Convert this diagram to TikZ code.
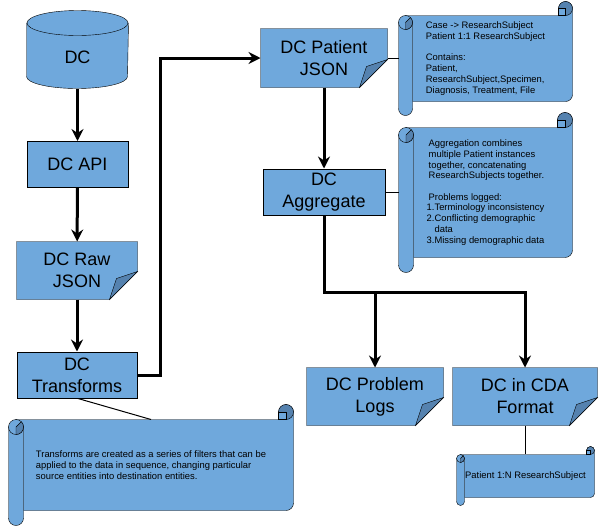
\documentclass[tikz,border=0pt]{standalone}
\usepackage{fontspec}
\setmainfont{Liberation Sans}
\usetikzlibrary{arrows.meta,backgrounds}
\definecolor{boxblue}{RGB}{111,168,220}
\definecolor{rolldark}{RGB}{85,130,175}

% scroll outline round a note node, #2 = size of the rolls
\newcommand{\scrollshape}[2]{%
  \coordinate (tl) at (#1.north west);
  \coordinate (tr) at (#1.north east);
  \coordinate (bl) at (#1.south west);
  \coordinate (br) at (#1.south east);
  \filldraw[fill=boxblue] ([shift={(#2/2,-#2)}]tl) -- ([shift={(-#2,-#2)}]tr)
    -- ([shift={(-#2,-#2/2)}]tr) arc (180:0:#2/2) -- ([shift={(0,#2*1.5)}]br)
    arc (0:-90:#2/2) -- ([shift={(#2,#2)}]bl) -- ([shift={(#2,-#2*1.5)}]tl) -- cycle;
  \filldraw[fill=rolldark] ([shift={(-#2/2,-#2/2)}]tr) circle (#2/2);
  \filldraw[fill=boxblue] ([shift={(-#2,-#2/2)}]tr) rectangle ([shift={(-#2/2,-#2)}]tr);
  \filldraw[fill=boxblue] ([shift={(0,-#2*1.5)}]tl) -- ([shift={(0,#2/2)}]bl)
    arc (180:360:#2/2) -- ([shift={(#2,-#2*1.5)}]tl) -- cycle;
  \filldraw[fill=boxblue] ([shift={(#2/2,-#2*1.5)}]tl) circle (#2/2);
  \filldraw[fill=rolldark] ([shift={(#2/2,-#2*1.5)}]tl) -- ++(0,-#2/2) arc (-90:45:#2/2) -- cycle;
}
% page with folded corner
\newcommand{\foldshape}[1]{%
  \filldraw[fill=boxblue] (#1.north west) -- (#1.north east) -- ([yshift=28]#1.south east)
    -- ([xshift=-28]#1.south east) -- (#1.south west) -- cycle;
  \filldraw[fill=rolldark] ([yshift=28]#1.south east) -- ([shift={(-21,21)}]#1.south east)
    -- ([xshift=-28]#1.south east) -- cycle;
}

\begin{document}
\begin{tikzpicture}[x=1pt, y=1pt, line width=1pt,
    box/.style = {draw, fill=boxblue, inner sep=0pt, align=center, font=\fontsize{18}{22}\selectfont},
    doc/.style = {inner sep=0pt, align=center, font=\fontsize{18}{22}\selectfont},
    note/.style = {inner sep=0pt, align=left, font=\fontsize{9.4}{10.7}\selectfont},
    flow/.style = {line width=3pt, -{Stealth[length=12pt, width=12pt, inset=4pt]}},
    link/.style = {line width=1pt}]
    \useasboundingbox (0,0) rectangle (603,-528);

        \node[doc, minimum width=101, minimum height=62] (dc) at (77.5,-57) {DC};
        \node[box, minimum width=101, minimum height=46] (api) at (77.5,-164.5) {DC API};
        \node[doc, minimum width=120, minimum height=57] (rawjson) at (77,-270.5) {DC Raw\\JSON};
        \node[box, minimum width=120, minimum height=46] (trans) at (77,-375) {DC\\Transforms};
        \node[doc, minimum width=126, minimum height=58] (patjson) at (324,-58) {DC Patient\\JSON};
        \node[box, minimum width=122, minimum height=46] (aggr) at (324,-192) {DC\\Aggregate};
        \node[doc, minimum width=136, minimum height=57] (problogs) at (375,-396.5) {DC Problem\\Logs};
        \node[doc, minimum width=144, minimum height=57] (cdafmt) at (525,-396.5) {DC in CDA\\Format};

        \node[note, minimum width=173, minimum height=113] (note1) at (485.5,-58.5)
            {Case -> ResearchSubject\\Patient 1:1 ResearchSubject\\[10.7pt]Contains:\\Patient,\\ResearchSubject,Specimen,\\Diagnosis, Treatment, File};
        \node[note, minimum width=173, minimum height=159] (note2) at (485.5,-192.5)
            {\hspace*{2pt}Aggregation combines\\\hspace*{2pt}multiple Patient instances\\\hspace*{2pt}together, concatenating\\\hspace*{2pt}ResearchSubjects together.\\[10.7pt]\hspace*{2pt}Problems logged:\\1.Terminology inconsistency\\2.Conflicting demographic\\\phantom{2.}data\\3.Missing demographic data};
        \node[note, minimum width=284, minimum height=120] (note3) at (151,-465)
            {Transforms are created as a series of filters that can be\\applied to the data in sequence, changing particular\\source entities into destination entities.};
        \node[note, minimum width=137, minimum height=58] (note4) at (525.5,-476) {Patient 1:N ResearchSubject};

        \begin{scope}[on background layer]
            \filldraw[fill=boxblue] ([yshift=2.5]dc.north west) -- ([yshift=12]dc.south west)
                arc (180:360:50.5 and 12) -- ([yshift=2.5]dc.north east) -- cycle;
            \filldraw[fill=boxblue] ([yshift=2.5]dc.north) ellipse (50.5 and 12.5);
            \foreach \n in {rawjson, patjson, problogs, cdafmt}
                {\foldshape{\n}}
            \foreach \n/\d in {note1/14, note2/15, note3/15, note4/8}
                {\scrollshape{\n}{\d}}
        \end{scope}

        \draw[flow] (dc) -- (api);
        \draw[flow] (api) -- (rawjson);
        \draw[flow] (rawjson) -- (trans);
        \draw[flow] (trans.east) -- ++(23,0) |- (patjson.west);
        \draw[flow] (patjson) -- (aggr);
        \coordinate (split) at ([yshift=-77]aggr.south);
        \draw[flow] (aggr.south) -- (split) -| (problogs.north);
        \draw[flow] (split) -| (cdafmt.north);

        \draw[link] (patjson.east) -- (patjson.east -| note1.west);
        \draw[link] (aggr.east) -- (aggr.east -| note2.west);
        \draw[link] ([xshift=1]trans.south) -- ([yshift=-15]note3.north);
        \draw[link] (cdafmt.south) -- ([yshift=-7]cdafmt.south |- note4.north);
    \end{tikzpicture}
\end{document}
